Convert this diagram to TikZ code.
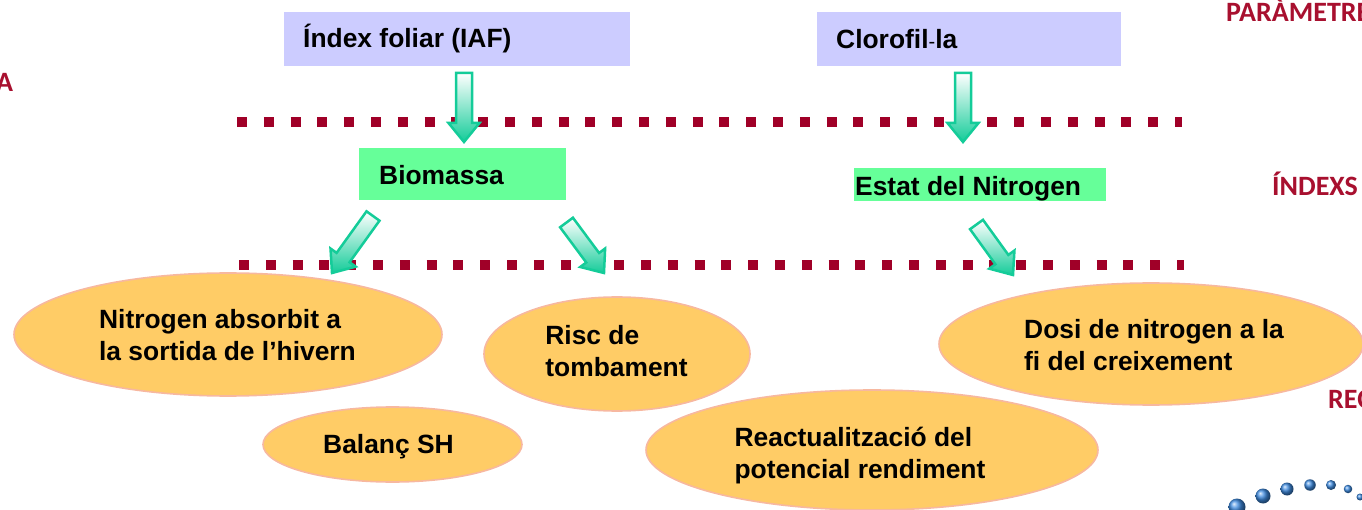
\documentclass[tikz,border=0pt]{standalone}
\usepackage{fontspec}
\setmainfont{Liberation Sans}
\newfontfamily\labelfont{Carlito}
\usetikzlibrary{shapes.geometric,calc}
\definecolor{dotred}{HTML}{A00028}
\definecolor{labelred}{HTML}{A8102F}
\definecolor{boxblue}{HTML}{CCCCFF}
\definecolor{boxgreen}{HTML}{66FF99}
\definecolor{ellfill}{HTML}{FFCC66}
\definecolor{ellline}{HTML}{F7B8A0}
\definecolor{arrowline}{HTML}{14CC99}
\definecolor{pearlblue}{HTML}{3E8BE0}
\tikzset{
  x=1pt,y=-1pt,
  boxtext/.style={font=\fontsize{26.4}{32}\selectfont\bfseries,anchor=west,inner sep=0pt},
  flatbox/.style={anchor=north west,inner sep=0pt,outer sep=0pt},
  ovalshape/.style={ellipse,draw=ellline,line width=1.6pt,fill=ellfill,inner sep=0pt,outer sep=0pt},
  ovaltext/.style={font=\fontsize{26.4}{32}\selectfont\bfseries,align=left,inner sep=0pt},
  dotline/.style={draw=dotred,line width=10pt,dash pattern=on 10pt off 16.8pt},
  blockarrow/.style={draw=arrowline,line width=2.5pt,line join=miter,top color=white,bottom color=arrowline},
  sidelabel/.style={font=\labelfont\fontsize{28}{32}\selectfont\bfseries,text=labelred,anchor=base west,inner sep=0pt},
  pearl/.style={circle,inner sep=0pt,ball color=pearlblue}
}
\newcommand{\blockarr}[2]{%
  \coordinate (hb) at ($(#2)!19pt!(#1)$);
  \draw[blockarrow] ($(#1)!8pt!90:(#2)$) -- ($(hb)!8pt!-90:(#1)$)
    -- ($(hb)!15.5pt!-90:(#1)$) -- (#2)
    -- ($(hb)!15.5pt!90:(#1)$) -- ($(hb)!8pt!90:(#1)$) -- ($(#1)!8pt!-90:(#2)$) -- cycle;}
\begin{document}
\begin{tikzpicture}
\useasboundingbox (0,0) rectangle (1362,510);
\clip (0,0) rectangle (1362,510);
% dotted separators
\coordinate (d1a) at (237,122); \coordinate (d1b) at (1182,122);
\coordinate (d2a) at (239,265); \coordinate (d2b) at (1184,265);
\draw[dotline] (d1a) -- (d1b);
\draw[dotline] (d2a) -- (d2b);
% boxes
\node[flatbox,fill=boxblue,minimum width=346pt,minimum height=54pt] (iaf) at (284,12) {};
\node[boxtext] (iaft) at (303,39) {Índex foliar (IAF)};
\node[flatbox,fill=boxblue,minimum width=304pt,minimum height=54pt] (clo) at (817,12) {};
\node[boxtext] (clot) at (836,39) {Clorofil{\mdseries\fontsize{20}{20}\selectfont -}la};
\node[flatbox,fill=boxgreen,minimum width=207pt,minimum height=52pt] (bio) at (359,148) {};
\node[boxtext] (biot) at (379,175) {Biomassa};
\node[flatbox,fill=boxgreen,minimum width=252pt,minimum height=33pt] (est) at (854,168) {};
\node[boxtext] (estt) at (855,188.5) {Estat del Nitrogen};
% ovals
\node[ovalshape,minimum width=428pt,minimum height=123pt] (e1) at (228,334.5) {};
\node[ovaltext] (e1t) at (227.5,335) {Nitrogen absorbit a\\la sortida de l’hivern};
\node[ovalshape,minimum width=266pt,minimum height=114pt] (e2) at (617,354) {};
\node[ovaltext] (e2t) at (616.5,351) {Risc de\\tombament};
\node[ovalshape,minimum width=424pt,minimum height=122pt] (e3) at (1151,344) {};
\node[ovaltext] (e3t) at (1154,345) {Dosi de nitrogen a la\\fi del creixement};
\node[ovalshape,minimum width=259pt,minimum height=75pt] (e4) at (392.5,444.5) {};
\node[ovaltext] (e4t) at (388.5,446.5) {Balanç SH};
\node[ovalshape,minimum width=452pt,minimum height=120pt] (e5) at (872,450) {};
\node[ovaltext] (e5t) at (860,456) {Reactualització del\\potencial rendiment};
% block arrows
\coordinate (a1s) at (464,73);   \coordinate (a1e) at (464,142);
\coordinate (a2s) at (963,73);   \coordinate (a2e) at (963,142);
\coordinate (a3s) at (373,216);  \coordinate (a3e) at (332,273);
\coordinate (a4s) at (566.5,222.5); \coordinate (a4e) at (604,273);
\coordinate (a5s) at (976.5,224.5); \coordinate (a5e) at (1013,275);
\blockarr{a1s}{a1e}
\blockarr{a2s}{a2e}
\blockarr{a3s}{a3e}
\blockarr{a4s}{a4e}
\blockarr{a5s}{a5e}
% side labels
\node[sidelabel] (l1) at (1226,22) {PARÀMETRE};
\node[sidelabel] (l2) at (-4,92) {A};
\node[sidelabel] (l3) at (1272,196) {ÍNDEXS};
\node[sidelabel] (l4) at (1328,408) {REC};
% pearls
\node[pearl,minimum size=17pt] (p1) at (1237,507) {};
\node[pearl,minimum size=15pt] (p2) at (1263,496) {};
\node[pearl,minimum size=13pt] (p3) at (1287,489) {};
\node[pearl,minimum size=11.5pt] (p4) at (1310,485) {};
\node[pearl,minimum size=10pt] (p5) at (1331,485) {};
\node[pearl,minimum size=8.5pt] (p6) at (1348,489) {};
\node[pearl,minimum size=7pt] (p7) at (1360,497) {};
\end{tikzpicture}
\end{document}
